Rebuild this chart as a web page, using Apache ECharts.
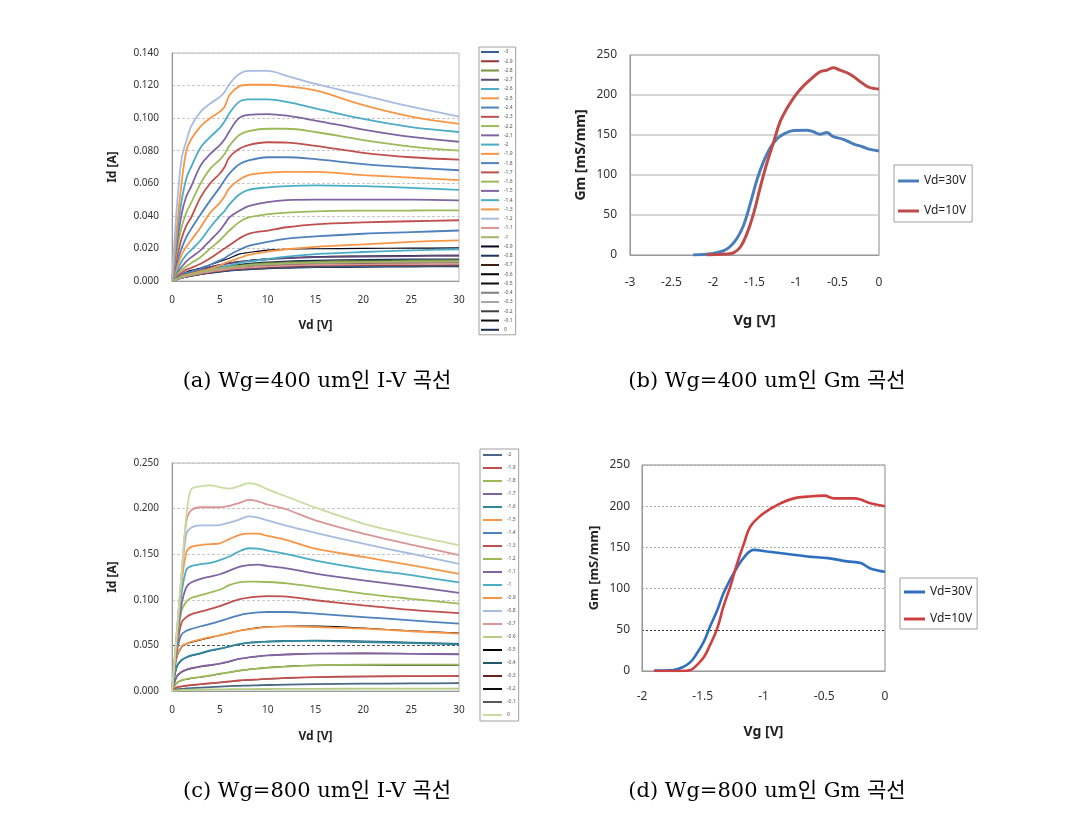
<!DOCTYPE html>
<html><head><meta charset="utf-8">
<script src="https://cdn.jsdelivr.net/npm/echarts@6/dist/echarts.min.js"></script>
<style>html,body{margin:0;padding:0;background:#fff}#c{width:1080px;height:819px}</style>
</head><body><div id="c"></div>
<script>
// ---------------- DATA ----------------
// (a) Wg=400um I-V : drain voltage samples and drain current per gate label
const vdA = [0,0.5,1,1.5,2,3,4,5,5.5,6,7,8,10,12,15,20,25,30];
const vgA = ['-3','-2.9','-2.8','-2.7','-2.6','-2.5','-2.4','-2.3','-2.2','-2.1','-2','-1.9','-1.8','-1.7','-1.6','-1.5','-1.4','-1.3','-1.2','-1.1','-1','-0.9','-0.8','-0.7','-0.6','-0.5','-0.4','-0.3','-0.2','-0.1','0'];
const idA = [
[0,0.0010,0.0019,0.0026,0.0032,0.0043,0.0052,0.0060,0.0064,0.0067,0.0071,0.0076,0.0082,0.0086,0.0089,0.0092,0.0094,0.0095],
[0,0.0010,0.0020,0.0027,0.0034,0.0045,0.0055,0.0063,0.0067,0.0070,0.0075,0.0080,0.0086,0.0090,0.0094,0.0097,0.0099,0.0100],
[0,0.0013,0.0025,0.0034,0.0043,0.0056,0.0069,0.0079,0.0084,0.0088,0.0094,0.0100,0.0108,0.0113,0.0118,0.0121,0.0124,0.0125],
[0,0.0016,0.0031,0.0042,0.0053,0.0070,0.0085,0.0098,0.0104,0.0109,0.0116,0.0124,0.0133,0.0140,0.0146,0.0150,0.0153,0.0155],
[0,0.0012,0.0025,0.0032,0.0040,0.0052,0.0065,0.0080,0.0090,0.0095,0.0110,0.0120,0.0135,0.0150,0.0165,0.0178,0.0188,0.0195],
[0,0.0015,0.0030,0.0038,0.0045,0.0060,0.0075,0.0095,0.0110,0.0120,0.0140,0.0160,0.0180,0.0195,0.0210,0.0225,0.0240,0.0250],
[0,0.002,0.004,0.005,0.0058,0.0075,0.010,0.0127,0.014,0.016,0.019,0.0215,0.024,0.026,0.0274,0.029,0.030,0.031],
[0,0.003,0.005,0.007,0.008,0.0106,0.014,0.018,0.020,0.022,0.026,0.029,0.031,0.033,0.0348,0.036,0.0367,0.0373],
[0,0.004,0.0066,0.009,0.011,0.0147,0.020,0.025,0.028,0.031,0.036,0.039,0.041,0.042,0.0428,0.0432,0.0433,0.0434],
[0,0.005,0.0086,0.012,0.0145,0.019,0.025,0.031,0.035,0.039,0.043,0.046,0.0485,0.0497,0.050,0.050,0.050,0.0495],
[0,0.006,0.012,0.016,0.019,0.025,0.033,0.040,0.043,0.047,0.053,0.056,0.0575,0.0583,0.0587,0.0582,0.0572,0.056],
[0,0.008,0.016,0.021,0.025,0.033,0.042,0.048,0.052,0.057,0.062,0.065,0.0665,0.067,0.067,0.065,0.0635,0.062],
[0,0.011,0.020,0.027,0.032,0.041,0.0495,0.0575,0.062,0.066,0.0715,0.074,0.076,0.076,0.0748,0.0718,0.0697,0.068],
[0,0.014,0.026,0.034,0.039,0.0515,0.060,0.066,0.070,0.076,0.081,0.0835,0.0852,0.085,0.083,0.0787,0.076,0.0745],
[0,0.018,0.033,0.042,0.048,0.060,0.069,0.0745,0.078,0.083,0.0895,0.092,0.0935,0.0935,0.0915,0.0865,0.0825,0.080],
[0,0.022,0.041,0.052,0.058,0.071,0.078,0.0835,0.087,0.092,0.100,0.102,0.1025,0.1015,0.0985,0.093,0.0885,0.0855],
[0,0.027,0.049,0.063,0.070,0.082,0.0885,0.094,0.098,0.103,0.110,0.1115,0.1115,0.110,0.106,0.0995,0.0945,0.0915],
[0,0.032,0.060,0.080,0.087,0.095,0.100,0.104,0.107,0.114,0.1195,0.1205,0.1205,0.1195,0.117,0.108,0.101,0.0965],
[0,0.045,0.075,0.086,0.095,0.104,0.109,0.113,0.116,0.121,0.127,0.129,0.129,0.126,0.121,0.114,0.107,0.101],
[0,0.0011,0.0021,0.0028,0.0036,0.0047,0.0058,0.0066,0.0070,0.0074,0.0079,0.0084,0.0090,0.0095,0.0099,0.0102,0.0104,0.0105],
[0,0.0012,0.0024,0.0032,0.0041,0.0054,0.0066,0.0076,0.0080,0.0084,0.0090,0.0096,0.0103,0.0108,0.0113,0.0116,0.0119,0.0120],
[0,0.002,0.004,0.0055,0.0065,0.008,0.010,0.012,0.013,0.014,0.0165,0.0175,0.019,0.0195,0.0198,0.020,0.0202,0.0203],
[0,0.0014,0.0027,0.0036,0.0046,0.0061,0.0074,0.0085,0.0090,0.0095,0.0101,0.0108,0.0116,0.0122,0.0127,0.0131,0.0134,0.0135],
[0,0.0011,0.0022,0.0030,0.0037,0.0050,0.0061,0.0069,0.0074,0.0077,0.0083,0.0088,0.0095,0.0099,0.0103,0.0107,0.0109,0.0110],
[0,0.0016,0.0032,0.0043,0.0054,0.0071,0.0087,0.0100,0.0106,0.0111,0.0119,0.0126,0.0136,0.0142,0.0149,0.0153,0.0156,0.0158],
[0,0.0012,0.0024,0.0033,0.0042,0.0055,0.0068,0.0078,0.0083,0.0087,0.0093,0.0099,0.0107,0.0112,0.0117,0.0121,0.0123,0.0126],
[0,0.0012,0.0023,0.0031,0.0039,0.0052,0.0063,0.0072,0.0077,0.0081,0.0086,0.0092,0.0099,0.0104,0.0108,0.0112,0.0114,0.0115],
[0,0.0009,0.0018,0.0024,0.0031,0.0041,0.0050,0.0057,0.0060,0.0063,0.0068,0.0072,0.0077,0.0081,0.0085,0.0087,0.0089,0.0090],
[0,0.0009,0.0019,0.0025,0.0032,0.0042,0.0052,0.0059,0.0063,0.0066,0.0071,0.0075,0.0081,0.0085,0.0089,0.0092,0.0094,0.0096],
[0,0.0013,0.0026,0.0035,0.0044,0.0058,0.0070,0.0081,0.0086,0.0090,0.0096,0.0102,0.0110,0.0115,0.0120,0.0124,0.0127,0.0128],
[0,0.0009,0.0018,0.0024,0.0030,0.0040,0.0048,0.0055,0.0059,0.0062,0.0066,0.0070,0.0076,0.0079,0.0083,0.0085,0.0087,0.0088]
];

// (b) Wg=400um Gm
const vgB30 = [-2.24,-2.0,-1.88,-1.8,-1.71,-1.63,-1.55,-1.47,-1.39,-1.31,-1.23,-1.15,-1.03,-0.87,-0.79,-0.71,-0.63,-0.55,-0.43,-0.31,-0.19,-0.11,0];
const gmB30 = [0,2,5,10,21,37.5,64.5,94,117,134,145,151,155.5,156,154,151,153,148,144.5,139,135,132,130];
const vgB10 = [-2.08,-1.84,-1.75,-1.67,-1.59,-1.51,-1.43,-1.35,-1.27,-1.19,-1.11,-1.03,-0.95,-0.83,-0.71,-0.63,-0.55,-0.47,-0.35,-0.23,-0.13,-0.05,0];
const gmB10 = [0,1.2,3,10,27,52,85,115,141,167,183,196,207,219,229,231,234,231,226,217,210,208,207.5];

// (c) Wg=800um I-V
const vdC = [0,0.5,1,1.5,2,3,4,5,6,7,8,9,10,12,15,20,25,30];
const vgC = ['-2','-1.9','-1.8','-1.7','-1.6','-1.5','-1.4','-1.3','-1.2','-1.1','-1','-0.9','-0.8','-0.7','-0.6','-0.5','-0.4','-0.3','-0.2','-0.1','0'];
const idC = [
[0,0.0018,0.0024,0.0028,0.0032,0.0038,0.0043,0.0048,0.0053,0.0057,0.006,0.0063,0.0066,0.007,0.0075,0.008,0.0083,0.0086],
[0,0.004,0.005,0.0058,0.0064,0.0075,0.0085,0.0095,0.0105,0.0115,0.0122,0.0128,0.0134,0.0143,0.0153,0.016,0.0163,0.0165],
[0,0.009,0.0117,0.013,0.014,0.0155,0.017,0.019,0.0205,0.0222,0.0235,0.0245,0.0255,0.0268,0.028,0.0289,0.029,0.029],
[0,0.016,0.021,0.0235,0.025,0.027,0.0285,0.030,0.0325,0.0352,0.0368,0.038,0.039,0.040,0.041,0.041,0.0408,0.0402],
[0,0.027,0.034,0.037,0.039,0.0415,0.0445,0.0465,0.049,0.0515,0.0528,0.0535,0.054,0.0548,0.055,0.0537,0.0526,0.0512],
[0,0.038,0.049,0.052,0.054,0.0565,0.059,0.061,0.0635,0.066,0.0675,0.069,0.070,0.0708,0.070,0.0683,0.0655,0.063],
[0,0.043,0.062,0.066,0.068,0.071,0.0735,0.0765,0.080,0.083,0.085,0.0862,0.0866,0.0866,0.0848,0.0811,0.0775,0.0738],
[0,0.047,0.075,0.081,0.084,0.087,0.090,0.093,0.097,0.1005,0.1025,0.1035,0.104,0.1035,0.0995,0.094,0.089,0.0855],
[0,0.052,0.088,0.098,0.102,0.105,0.108,0.111,0.116,0.119,0.120,0.1198,0.1195,0.118,0.114,0.1067,0.101,0.0958],
[0,0.055,0.095,0.114,0.119,0.123,0.1255,0.128,0.132,0.136,0.138,0.1385,0.137,0.1345,0.1287,0.1213,0.1148,0.1075],
[0,0.057,0.107,0.133,0.137,0.139,0.1405,0.1435,0.1475,0.153,0.1565,0.156,0.154,0.150,0.143,0.134,0.127,0.119],
[0,0.060,0.118,0.152,0.158,0.160,0.161,0.162,0.1665,0.171,0.1725,0.1725,0.170,0.1655,0.156,0.147,0.138,0.1285],
[0,0.063,0.125,0.172,0.179,0.1815,0.1815,0.182,0.1845,0.188,0.1915,0.190,0.187,0.181,0.1735,0.1615,0.1505,0.1395],
[0,0.064,0.127,0.186,0.198,0.2015,0.2015,0.2015,0.203,0.206,0.2095,0.208,0.2045,0.199,0.187,0.1725,0.1605,0.149],
[0,0.0008,0.0011,0.0013,0.0014,0.0016,0.0017,0.0018,0.0019,0.002,0.0021,0.0022,0.0022,0.0023,0.0024,0.0025,0.0026,0.0026],
[0,0.037,0.048,0.0515,0.0535,0.056,0.0585,0.061,0.0635,0.066,0.068,0.0695,0.0705,0.071,0.0712,0.069,0.066,0.0635],
[0,0.026,0.0335,0.0365,0.0385,0.041,0.044,0.046,0.0485,0.051,0.053,0.0538,0.0545,0.0552,0.0555,0.0548,0.0535,0.052],
[0,0.0155,0.0205,0.023,0.0245,0.0265,0.028,0.0298,0.032,0.035,0.0367,0.038,0.039,0.0402,0.0412,0.0415,0.0412,0.0405],
[0,0.0088,0.0115,0.0128,0.0138,0.0153,0.0168,0.0188,0.0205,0.0223,0.0237,0.0248,0.0258,0.0272,0.0283,0.0285,0.0283,0.0282],
[0,0.0038,0.0048,0.0056,0.0062,0.0072,0.0082,0.0092,0.0102,0.0112,0.0119,0.0125,0.0131,0.014,0.015,0.0157,0.016,0.0162],
[0,0.064,0.128,0.192,0.221,0.2245,0.2255,0.2235,0.222,0.2245,0.228,0.226,0.221,0.213,0.201,0.1835,0.171,0.160]
];

// (d) Wg=800um Gm
const vgD30 = [-1.9,-1.74,-1.66,-1.6,-1.55,-1.49,-1.44,-1.38,-1.33,-1.27,-1.22,-1.16,-1.08,-0.97,-0.8,-0.64,-0.47,-0.31,-0.2,-0.12,0];
const gmD30 = [0.5,1.2,5,11,21,36,54,74,94,112,125,138,147,145,142,139,137,133,131,124.5,120.5];
const vgD10 = [-1.9,-1.68,-1.6,-1.55,-1.49,-1.44,-1.38,-1.33,-1.27,-1.22,-1.16,-1.11,-1.02,-0.94,-0.86,-0.75,-0.64,-0.5,-0.42,-0.25,-0.2,-0.12,0];
const gmD10 = [0,0,1.2,7,17,31.5,52,78,104,129,155,175,189,197,203.5,209.5,211.6,212.8,209.5,209.5,208,203.5,200];

const legendGm = ['Vd=30V','Vd=10V'];
const captions = ['(a) Wg=400 um인 I-V 곡선','(b) Wg=400 um인 Gm 곡선','(c) Wg=800 um인 I-V 곡선','(d) Wg=800 um인 Gm 곡선'];

// ---------------- STYLE ----------------
const colA = ['#376092','#953735','#77933c','#604a7b','#4bacc6','#f79646','#4f81bd','#c0504d','#9bbb59','#8064a2',
  '#4bacc6','#f79646','#4f81bd','#c0504d','#9bbb59','#8064a2','#4bacc6','#f79646','#a8bce2','#d99694',
  '#a3b56b','#050520','#17375e','#3f1f10','#000000','#0a0a0a','#7f7f7f','#a6a6a6','#404040','#111111','#1f2f4f'];
const colC = ['#4a6785','#c0504d','#9bbb59','#8064a2','#31859c','#f79646','#4f81bd','#c0504d','#9bbb59','#8064a2',
  '#4bacc6','#f79646','#a5bde0','#d99694','#b5cc85','#000000','#215968','#632523','#0d0d0d','#595959','#c8dca0'];
// dark series drawn thin and underneath the coloured ones
const darkA = ['-0.9','-0.8','-0.7','-0.6','-0.5','-0.4','-0.3','-0.2','-0.1','0'];
const darkC = ['-0.5','-0.4','-0.3','-0.2','-0.1'];
const colB = ['#4a7ebb','#be4b48'];
const colD = ['#2f6fbf','#cf3f3f'];
const FONT = '"Noto Sans","Noto Sans CJK KR",sans-serif';

const chart = echarts.init(document.getElementById('c'));
const pair = (xs, ys) => xs.map((x, i) => [x, ys[i]]);
const series = [];
vgA.forEach((v, i) => { const dk = darkA.includes(v); series.push({
  name: 'a|' + v, type: 'line', xAxisIndex: 0, yAxisIndex: 0, data: pair(vdA, idA[i]), z: dk ? 2 : 3,
  symbol: 'none', smooth: 0.35, lineStyle: {width: dk ? 1.2 : 1.8, color: colA[i]}, itemStyle: {color: colA[i]}
}); });
vgC.forEach((v, i) => { const dk = darkC.includes(v); series.push({
  name: 'c|' + v, type: 'line', xAxisIndex: 2, yAxisIndex: 2, data: pair(vdC, idC[i]), z: dk ? 2 : 3,
  symbol: 'none', smooth: 0.3, lineStyle: {width: dk ? 1.1 : 1.8, color: colC[i]}, itemStyle: {color: colC[i]}
}); });
[[vgB30, gmB30], [vgB10, gmB10]].forEach((d, i) => series.push({
  name: 'b|' + legendGm[i], type: 'line', xAxisIndex: 1, yAxisIndex: 1, data: pair(d[0], d[1]),
  symbol: 'none', smooth: 0.4, lineStyle: {width: 3, color: colB[i]}, itemStyle: {color: colB[i]}
}));
[[vgD30, gmD30], [vgD10, gmD10]].forEach((d, i) => series.push({
  name: 'd|' + legendGm[i], type: 'line', xAxisIndex: 3, yAxisIndex: 3, data: pair(d[0], d[1]),
  symbol: 'none', smooth: 0.4, lineStyle: {width: 2.6, color: colD[i]}, itemStyle: {color: colD[i]}
}));

const xBase = (gi, min, max, interval, name, gap, margin, fs, nfs) => ({
  gridIndex: gi, type: 'value', min, max, interval,
  axisLine: {show: true, onZero: false, lineStyle: {color: '#999', width: 1}},
  axisTick: {show: false}, splitLine: {show: false},
  axisLabel: {fontSize: fs, color: '#333', margin, fontFamily: FONT},
  name, nameLocation: 'middle', nameGap: gap,
  nameTextStyle: {fontSize: nfs, fontWeight: 'bold', color: '#222', fontFamily: FONT}
});
const yBase = (gi, min, max, interval, name, gap, margin, fs, nfs, split, fmt) => ({
  gridIndex: gi, type: 'value', min, max, interval,
  axisLine: {show: true, onZero: false, lineStyle: {color: '#999', width: 1}},
  axisTick: {show: false}, splitLine: split,
  axisLabel: {fontSize: fs, color: '#333', margin, fontFamily: FONT, formatter: fmt},
  name, nameLocation: 'middle', nameGap: gap,
  nameTextStyle: {fontSize: nfs, fontWeight: 'bold', color: '#222', fontFamily: FONT}
});

const legCommon = {orient: 'vertical', icon: 'rect', selectedMode: false, borderColor: '#a0a0a0', borderWidth: 1,
  formatter: n => n.split('|')[1]};

chart.setOption({
  animation: false,
  backgroundColor: '#fff',
  grid: [
    {left: 172, top: 53, width: 287, height: 228, show: true, borderColor: '#b8b8b8', borderWidth: 1},
    {left: 630, top: 55, width: 249, height: 200, show: true, borderColor: '#8a8a8a', borderWidth: 1},
    {left: 172, top: 463, width: 287, height: 228, show: true, borderColor: '#b8b8b8', borderWidth: 1},
    {left: 642, top: 465, width: 243, height: 206, show: true, borderColor: '#8a8a8a', borderWidth: 1}
  ],
  xAxis: [
    xBase(0, 0, 30, 5, 'Vd [V]', 39, 14, 10, 12),
    xBase(1, -3, 0, 0.5, 'Vg [V]', 58, 22, 12, 15),
    xBase(2, 0, 30, 5, 'Vd [V]', 40, 14, 10, 12),
    xBase(3, -2, 0, 0.5, 'Vg [V]', 54, 20, 12, 14)
  ],
  yAxis: [
    yBase(0, 0, 0.14, 0.02, 'Id [A]', 53, 13, 10, 12,
      {show: true, lineStyle: {color: '#c8c8c8', type: [3, 2], width: 1}}, v => v.toFixed(3)),
    yBase(1, 0, 250, 50, 'Gm [mS/mm]', 42, 13, 12, 14,
      {show: true, lineStyle: {color: '#c8c8c8', width: 1.5}}),
    yBase(2, 0, 0.25, 0.05, 'Id [A]', 53, 13, 10, 12,
      {show: true, lineStyle: {color: ['#c8c8c8', '#555', '#c8c8c8', '#c8c8c8', '#c8c8c8', '#c8c8c8'], type: [3, 2], width: 1}}, v => v.toFixed(3)),
    yBase(3, 0, 250, 50, 'Gm [mS/mm]', 41, 12, 12, 13,
      {show: true, lineStyle: {color: ['#aaa', '#333', '#aaa', '#aaa', '#aaa', '#aaa'], type: [2, 2], width: 1}})
  ],
  legend: [
    Object.assign({}, legCommon, {data: vgA.map(v => 'a|' + v), left: 479, top: 47, padding: [2, 3, 2, 2],
      itemWidth: 18, itemHeight: 2, itemGap: 3.26, textStyle: {fontSize: 5, lineHeight: 6, color: '#555', fontFamily: FONT}}),
    Object.assign({}, legCommon, {data: vgC.map(v => 'c|' + v), left: 480, top: 449, padding: [3, 3, 3, 3],
      itemWidth: 19, itemHeight: 2, itemGap: 7, textStyle: {fontSize: 5, lineHeight: 6, color: '#555', fontFamily: FONT}}),
    Object.assign({}, legCommon, {data: legendGm.map(v => 'b|' + v), left: 894, top: 165, padding: [9, 6, 4, 4],
      itemWidth: 21, itemHeight: 3, itemGap: 16, textStyle: {fontSize: 12, lineHeight: 14, color: '#222', fontFamily: FONT}}),
    Object.assign({}, legCommon, {data: legendGm.map(v => 'd|' + v), left: 900, top: 578, padding: [7, 5, 3, 4],
      itemWidth: 21, itemHeight: 3, itemGap: 13, textStyle: {fontSize: 12, lineHeight: 14, color: '#222', fontFamily: FONT}})
  ],
  graphic: [[317, 382], [767, 382], [317, 792], [767, 792]].map((p, i) => ({
    type: 'text', x: p[0], y: p[1], silent: true,
    style: {text: captions[i], fontSize: 21, fontFamily: '"DejaVu Serif","Noto Sans CJK KR",serif', fill: '#000',
      align: 'center', verticalAlign: 'middle', textAlign: 'center', textVerticalAlign: 'middle'}
  })),
  series
});
</script></body></html>
